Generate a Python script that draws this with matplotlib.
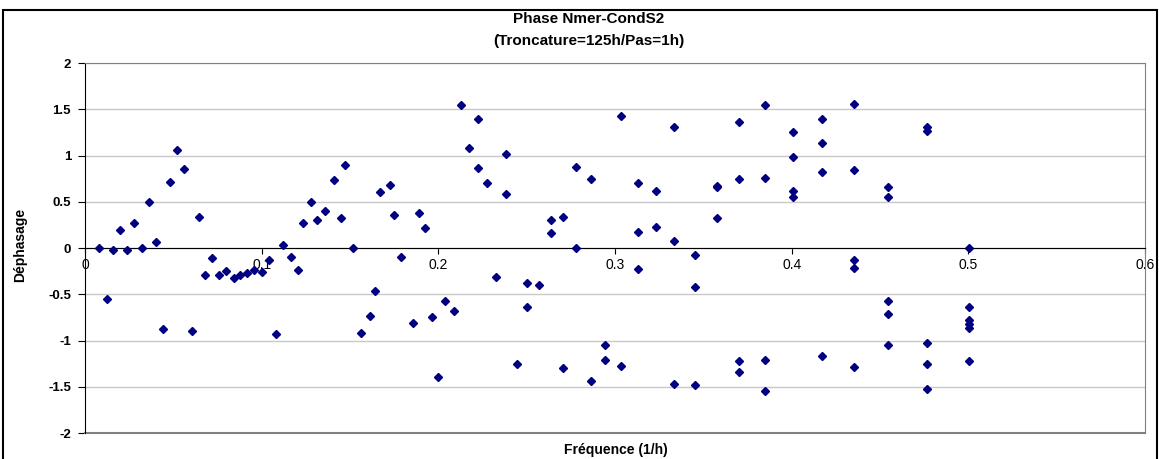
import matplotlib
matplotlib.use('Agg')
from matplotlib import pyplot as plt
from matplotlib.patches import Rectangle

plt.rcParams['font.family'] = ['Liberation Sans', 'DejaVu Sans']

# Fréquence (1/h) et déphasage lus pour chaque composante
freq = [0.0082, 0.0122, 0.0158, 0.0199, 0.024, 0.028, 0.0322, 0.0363, 0.040,
        0.0439, 0.0479, 0.052, 0.0562, 0.0603, 0.0643, 0.0679, 0.072, 0.076,
        0.080, 0.0841, 0.0877, 0.0918, 0.0958, 0.100, 0.104, 0.108, 0.1123,
        0.1164, 0.1206, 0.1232, 0.128, 0.1315, 0.1357, 0.141, 0.145, 0.1474,
        0.1515, 0.156, 0.1614, 0.1644, 0.167, 0.1725, 0.175, 0.1787, 0.1855,
        0.189, 0.1923, 0.1965, 0.2, 0.2039, 0.2086, 0.2129, 0.2175, 0.2227,
        0.2227, 0.2273, 0.2327, 0.2384, 0.2384, 0.2446, 0.2501, 0.2501,
        0.2569, 0.2635, 0.2635, 0.2705, 0.2705, 0.2779, 0.2779, 0.2862,
        0.2862, 0.2943, 0.2943, 0.3032, 0.3032, 0.313, 0.313, 0.313, 0.323,
        0.323, 0.3334, 0.3334, 0.3334, 0.3451, 0.3451, 0.3451, 0.3576, 0.3576,
        0.3576, 0.3702, 0.3702, 0.3702, 0.3702, 0.3848, 0.3848, 0.3848, 0.3848,
        0.4006, 0.4006, 0.4006, 0.4006, 0.4169, 0.4169, 0.4169, 0.4169,
        0.4354, 0.4354, 0.4354, 0.4354, 0.4354, 0.4547, 0.4547, 0.4547, 0.4547,
        0.4547, 0.4765, 0.4765, 0.4765, 0.4765, 0.4765, 0.5006, 0.5006, 0.5006,
        0.5006, 0.5006, 0.5006]
phase = [0.0, -0.55, -0.02, 0.20, -0.02, 0.265, 0.0, 0.50, 0.07,
         -0.874, 0.71, 1.057, 0.856, -0.892, 0.34, -0.294, -0.11, -0.294,
         -0.25, -0.319, -0.294, -0.27, -0.235, -0.26, -0.135, -0.93, 0.034,
         -0.092, -0.236, 0.272, 0.50, 0.30, 0.405, 0.733, 0.319, 0.895,
         0.002, -0.924, -0.73, -0.463, 0.607, 0.676, 0.359, -0.092, -0.81,
         0.376, 0.214, -0.748, -1.393, -0.578, -0.683, 1.544, 1.076, 1.40,
         0.867, 0.705, -0.311, 1.018, 0.589, -1.256, -0.376, -0.643,
         -0.405, 0.30, 0.16, 0.333, -1.295, 0.874, 0.005, 0.744,
         -1.436, -1.047, -1.216, 1.422, -1.274, 0.705, 0.178, -0.232, 0.611,
         0.229, 1.313, 0.081, -1.465, -0.081, -0.427, -1.476, 0.66, 0.675,
         0.319, 1.364, 0.744, -1.227, -1.342, 1.544, 0.762, -1.209, -1.551,
         1.256, 0.989, 0.618, 0.549, 1.393, 1.13, 0.827, -1.17,
         1.562, 0.838, -0.135, -0.218, -1.285, 0.657, 0.549, -0.568, -0.712,
         -1.054, 1.313, 1.267, -1.025, -1.256, -1.522, -0.005, -0.636, -0.78,
         -0.82, -0.86, -1.227]

xticks = [0, 0.1, 0.2, 0.3, 0.4, 0.5, 0.6]
xticklabels = ['0', '0.1', '0.2', '0.3', '0.4', '0.5', '0.6']
yticks = [-2, -1.5, -1, -0.5, 0, 0.5, 1, 1.5, 2]
yticklabels = ['-2', '-1.5', '-1', '-0.5', '0', '0.5', '1', '1.5', '2']

fig = plt.figure(figsize=(11.59, 4.59), dpi=100)
ax = fig.add_axes([85 / 1159, 1 - 433 / 459, 1060 / 1159, 370 / 459])

ax.plot(freq, phase, linestyle='none', marker='D', ms=4.2,
        color='#000080', zorder=3)

ax.set_xlim(0, 0.6)
ax.set_ylim(-2, 2)
ax.set_xticks(xticks)
ax.set_xticklabels(xticklabels)
ax.set_yticks(yticks)
ax.set_yticklabels(yticklabels)

for lab in ax.get_xticklabels() + ax.get_yticklabels():
    lab.set_fontweight('bold')
    lab.set_fontsize(9.5)

ax.yaxis.grid(True, color='#c8c8c8', lw=1.0)
ax.set_axisbelow(True)

# axe horizontal sur y=0, cadre gris autour de la zone de tracé
ax.spines['bottom'].set_position(('data', 0))
ax.spines['bottom'].set_color('black')
ax.spines['left'].set_color('black')
for s in ['top', 'right']:
    ax.spines[s].set_color('#808080')
ax.axhline(-2, color='#808080', lw=1.5, clip_on=False, zorder=1)

ax.tick_params(axis='x', direction='out', length=4, width=0.8, pad=3.5)
ax.tick_params(axis='y', direction='out', length=5, width=0.8, pad=5)

fig.text(0.508, 1 - 19 / 459, 'Phase Nmer-CondS2', ha='center', va='center',
         fontsize=11, fontweight='bold')
fig.text(0.508, 1 - 41 / 459, '(Troncature=125h/Pas=1h)', ha='center',
         va='center', fontsize=11, fontweight='bold')
fig.text(616 / 1159, 1 - 450 / 459, 'Fréquence (1/h)', ha='center',
         va='center', fontsize=10, fontweight='bold')
fig.text(20 / 1159, 1 - 245 / 459, 'Déphasage', ha='center', va='center',
         rotation=90, fontsize=10, fontweight='bold')

# bordure de la zone graphique
fig.patches.append(Rectangle((3 / 1159, -0.01), 1154 / 1159, 1.01 - 10 / 459,
                             transform=fig.transFigure, fill=False,
                             edgecolor='black', lw=1.5))

fig.savefig('out.png', dpi=100)
